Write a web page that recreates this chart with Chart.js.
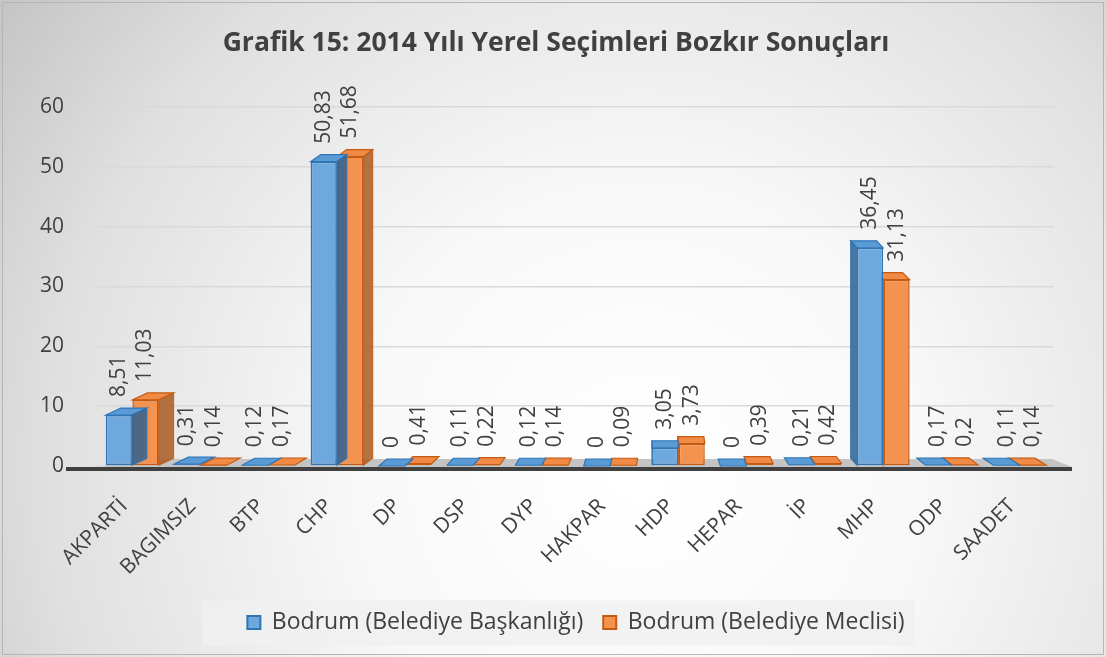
<!DOCTYPE html>
<html>
<head>
<meta charset="utf-8">
<script src="https://cdn.jsdelivr.net/npm/chart.js@4.4.1/dist/chart.umd.min.js"></script>
<style>
html,body{margin:0;padding:0;background:#fff;}
canvas{display:block;}
</style>
</head>
<body>
<canvas id="c" width="1106" height="657"></canvas>
<script>
const categories = ['AKPARTİ','BAGIMSIZ','BTP','CHP','DP','DSP','DYP','HAKPAR','HDP','HEPAR','İP','MHP','ODP','SAADET'];
const baskanlik = [8.51,0.31,0.12,50.83,0,0.11,0.12,0,3.05,0,0.21,36.45,0.17,0.11];
const meclis = [11.03,0.14,0.17,51.68,0.41,0.22,0.14,0.09,3.73,0.39,0.42,31.13,0.2,0.14];
const yTicks = [0,10,20,30,40,50,60];
const seriesNames = ['Bodrum (Belediye Başkanlığı)','Bodrum (Belediye Meclisi)'];
const titleText = 'Grafik 15: 2014 Yılı Yerel Seçimleri Bozkır Sonuçları';

const FONT = "'Open Sans', 'DejaVu Sans', sans-serif";
const TXT = '#404040';

const bgPlugin = {
  id:'bg',
  afterLayout(chart){
    // centre the title over the same band as the original chart
    if (chart.titleBlock){ chart.titleBlock.left = 58; chart.titleBlock.right = 1054; }
  },
  beforeDraw(chart){
    const {ctx, width, height} = chart;
    ctx.save();
    const g = ctx.createRadialGradient(640, 470, 20, 640, 470, 780);
    g.addColorStop(0, '#ffffff');
    g.addColorStop(0.35, '#f8f8f8');
    g.addColorStop(0.75, '#e0e0e0');
    g.addColorStop(1, '#c6c6c6');
    ctx.fillStyle = g;
    ctx.fillRect(0,0,width,height);
    ctx.strokeStyle = '#b5b5b5';
    ctx.lineWidth = 1;
    ctx.strokeRect(2.5,2.5,width-5,height-5);
    const lg = chart.legend;
    if (lg && lg.legendHitBoxes && lg.legendHitBoxes.length){
      const hb = lg.legendHitBoxes;
      const l = hb[0].left - 45, r = hb[hb.length-1].left + hb[hb.length-1].width + 10;
      const cy = hb[0].top + hb[0].height/2;
      ctx.fillStyle = 'rgba(240,240,240,0.85)';
      ctx.fillRect(l, cy - 22, r - l, 45);
    }
    ctx.restore();
  }
};

const floorPlugin = {
  id:'floor',
  beforeDatasetsDraw(chart){
    const {ctx, chartArea} = chart;
    const y0 = chart.scales.y.getPixelForValue(0);
    ctx.save();
    ctx.fillStyle = '#c4c4c4';
    ctx.beginPath();
    ctx.moveTo(chartArea.left + 6, y0 + 1);
    ctx.lineTo(chartArea.right + 18, y0 + 1);
    ctx.lineTo(chartArea.right - 2, y0 - 7);
    ctx.lineTo(chartArea.left + 18, y0 - 7);
    ctx.closePath();
    ctx.fill();
    ctx.strokeStyle = '#404040';
    ctx.lineWidth = 4;
    ctx.beginPath();
    ctx.moveTo(chartArea.left - 32, y0 + 3);
    ctx.lineTo(chartArea.right + 18, y0 + 3);
    ctx.stroke();
    ctx.restore();
  }
};

const sideColors = [
  {top:'#5b9bd5', side:'#2f5f8f', edge:'#2e75b6'},
  {top:'#f08a44', side:'#a95a22', edge:'#c55a11'}
];

const depthPlugin = {
  id:'depth',
  afterDatasetDraw(chart, args){
    const {ctx} = chart;
    const meta = args.meta;
    const sc = sideColors[args.index];
    const vx = 660;
    ctx.save();
    meta.data.forEach(bar => {
      const w = bar.width;
      const left = bar.x - w/2, right = bar.x + w/2;
      const top = Math.min(bar.y, bar.base), base = bar.base;
      const dx = Math.max(-15, Math.min(15, (vx - bar.x) * 0.03));
      const dy = 7;
      ctx.lineWidth = 1.2;
      ctx.strokeStyle = sc.edge;
      ctx.fillStyle = sc.top;
      ctx.beginPath();
      ctx.moveTo(left, top);
      ctx.lineTo(right, top);
      ctx.lineTo(right + dx, top - dy);
      ctx.lineTo(left + dx, top - dy);
      ctx.closePath();
      ctx.fill(); ctx.stroke();
      if (base - top > 3){
        ctx.fillStyle = sc.side;
        ctx.globalAlpha = 0.85;
        ctx.beginPath();
        const sx = dx >= 0 ? right : left;
        ctx.moveTo(sx, top);
        ctx.lineTo(sx + dx, top - dy);
        ctx.lineTo(sx + dx, base - dy);
        ctx.lineTo(sx, base);
        ctx.closePath();
        ctx.fill(); ctx.stroke();
        ctx.globalAlpha = 1;
      }
    });
    ctx.restore();
  }
};

const labelPlugin = {
  id:'vlabels',
  afterDatasetsDraw(chart){
    const {ctx} = chart;
    ctx.save();
    ctx.font = "21px " + FONT;
    ctx.fillStyle = TXT;
    ctx.textAlign = 'left';
    ctx.textBaseline = 'middle';
    chart.data.datasets.forEach((ds, i) => {
      const meta = chart.getDatasetMeta(i);
      meta.data.forEach((bar, j) => {
        const txt = String(ds.data[j]).replace('.', ',');
        ctx.save();
        ctx.translate(bar.x, Math.min(bar.y, bar.base) - 18);
        ctx.rotate(-Math.PI/2);
        ctx.fillText(txt, 0, 0);
        ctx.restore();
      });
    });
    ctx.restore();
  }
};

new Chart(document.getElementById('c'), {
  type:'bar',
  data:{
    labels: categories,
    datasets:[
      {label: seriesNames[0], data: baskanlik, backgroundColor:'#6fa8dc', borderColor:'#2e75b6', borderWidth:1.5, borderSkipped:false},
      {label: seriesNames[1], data: meclis, backgroundColor:'#f4934f', borderColor:'#c55a11', borderWidth:1.5, borderSkipped:false}
    ]
  },
  options:{
    responsive:false,
    animation:false,
    devicePixelRatio:1,
    layout:{padding:{left:20, right:52, top:6, bottom:13}},
    datasets:{bar:{categoryPercentage:0.78, barPercentage:0.98}},
    plugins:{
      title:{display:true, text:titleText, color:TXT, font:{family:FONT, size:26.5, weight:'bold'}, padding:{top:22, bottom:47}},
      legend:{position:'bottom', fullSize:false, labels:{color:TXT, font:{family:FONT, size:23}, boxWidth:13, boxHeight:13, padding:20,
        generateLabels(chart){
          return chart.data.datasets.map((d,i)=>({text:d.label, fillStyle:d.backgroundColor, strokeStyle:d.borderColor, lineWidth:2, datasetIndex:i, fontColor:TXT}));
        }}},
      tooltip:{enabled:false}
    },
    scales:{
      x:{
        grid:{display:false}, border:{display:false},
        ticks:{color:TXT, font:{family:FONT, size:21}, maxRotation:45, minRotation:45, padding:20, labelOffset:-8},
        afterFit(s){ s.height = 125; }
      },
      y:{
        min:0, max:60,
        afterBuildTicks(s){ s.ticks = yTicks.map(v=>({value:v})); },
        grid:{color:'#d9d9d9', drawTicks:false, lineWidth:1.5},
        border:{display:false},
        ticks:{color:TXT, font:{family:FONT, size:21}, padding:34},
        afterFit(s){ s.width = 78; }
      }
    }
  },
  plugins:[bgPlugin, floorPlugin, depthPlugin, labelPlugin]
});
</script>
</body>
</html>
